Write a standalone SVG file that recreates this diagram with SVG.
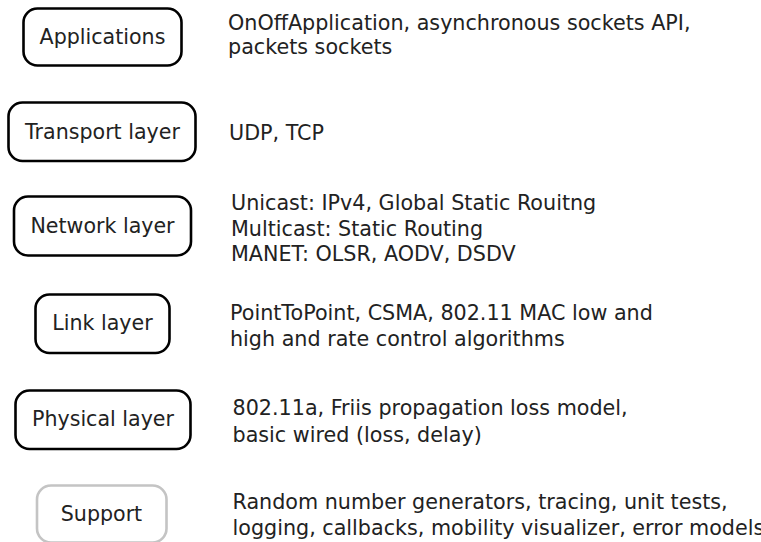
<svg xmlns="http://www.w3.org/2000/svg" width="761" height="542" viewBox="0 0 761 542">
  <style>
    .box { fill: #ffffff; stroke: #000000; stroke-width: 2.6; }
    .box.muted { stroke: #c4c4c4; }
    .label { font-family: "DejaVu Sans", "Liberation Sans", sans-serif; font-size: 20.6px; fill: #222222; text-anchor: middle; }
    .desc { font-family: "DejaVu Sans", "Liberation Sans", sans-serif; font-size: 20.7px; fill: #222222; }
  </style>
  <rect width="761" height="542" fill="#ffffff"/>

  <g id="applications">
    <rect class="box" x="23.5" y="8.5" width="158" height="57" rx="14"/>
    <text class="label" x="102.5" y="43.5">Applications</text>
    <text class="desc" x="228" y="29.5">OnOffApplication, asynchronous sockets API,</text>
    <text class="desc" x="228" y="54">packets sockets</text>
  </g>

  <g id="transport">
    <rect class="box" x="8.5" y="102.5" width="187" height="58.5" rx="14"/>
    <text class="label" x="102.5" y="138.5">Transport layer</text>
    <text class="desc" x="229" y="139.5">UDP, TCP</text>
  </g>

  <g id="network">
    <rect class="box" x="14" y="196.5" width="177" height="59" rx="14"/>
    <text class="label" x="102.5" y="232.5">Network layer</text>
    <text class="desc" x="231" y="210">Unicast: IPv4, Global Static Rouitng</text>
    <text class="desc" x="231" y="235.5">Multicast: Static Routing</text>
    <text class="desc" x="231" y="261">MANET: OLSR, AODV, DSDV</text>
  </g>

  <g id="link">
    <rect class="box" x="35.5" y="294.5" width="134" height="58.5" rx="14"/>
    <text class="label" x="102.5" y="330">Link layer</text>
    <text class="desc" x="230" y="319.5">PointToPoint, CSMA, 802.11 MAC low and</text>
    <text class="desc" x="230" y="345.5">high and rate control algorithms</text>
  </g>

  <g id="physical">
    <rect class="box" x="15.5" y="390.5" width="175" height="58.5" rx="14"/>
    <text class="label" x="103" y="426">Physical layer</text>
    <text class="desc" x="232.5" y="415">802.11a, Friis propagation loss model,</text>
    <text class="desc" x="232.5" y="441.5">basic wired (loss, delay)</text>
  </g>

  <g id="support">
    <rect class="box muted" x="37" y="485.5" width="129.5" height="57" rx="14"/>
    <text class="label" x="101.5" y="521">Support</text>
    <text class="desc" x="232.5" y="508.5">Random number generators, tracing, unit tests,</text>
    <text class="desc" x="232.5" y="535">logging, callbacks, mobility visualizer, error models</text>
  </g>
</svg>
